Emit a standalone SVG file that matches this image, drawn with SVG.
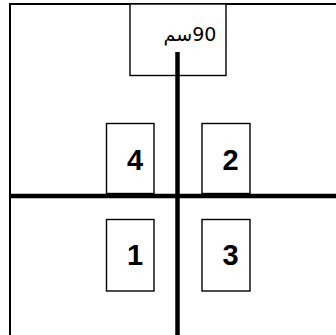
<svg xmlns="http://www.w3.org/2000/svg" width="336" height="335" viewBox="0 0 336 335">
<style>
.frame{fill:none;stroke:#000;stroke-width:2}
.box{fill:#fff;stroke:#000;stroke-width:1.4}
.axis{stroke:#000;stroke-width:4.5;fill:none}
.num{font-family:"Liberation Sans",Arial,sans-serif;font-weight:bold;font-size:29px;fill:#000;text-anchor:middle}
.lbl{font-family:"DejaVu Sans","Liberation Sans",sans-serif;font-size:19px;fill:#000;text-anchor:middle}
</style>
<rect x="0" y="0" width="336" height="335" fill="#fff"/>
<g id="frame">
<path class="frame" d="M10,335 V4 H336"/>
</g>
<g id="top-box">
<rect class="box" x="130" y="4" width="96" height="71.5"/>
<text class="lbl" x="190" y="41" direction="rtl" unicode-bidi="embed">90سم</text>
</g>
<g id="box-4">
<rect class="box" x="106.5" y="123.5" width="47.5" height="70"/>
<text class="num" x="135" y="170">4</text>
</g>
<g id="box-2">
<rect class="box" x="202" y="123.5" width="48" height="70"/>
<text class="num" x="230.5" y="170">2</text>
</g>
<g id="box-1">
<rect class="box" x="106.5" y="219.5" width="47.5" height="71.5"/>
<text class="num" x="135" y="265">1</text>
</g>
<g id="box-3">
<rect class="box" x="202" y="219.5" width="48" height="71.5"/>
<text class="num" x="230.5" y="265">3</text>
</g>
<g id="connectors">
<line class="axis" x1="10" y1="196" x2="336" y2="196"/>
<line class="axis" x1="177.5" y1="52" x2="177.5" y2="335"/>
</g>
</svg>
